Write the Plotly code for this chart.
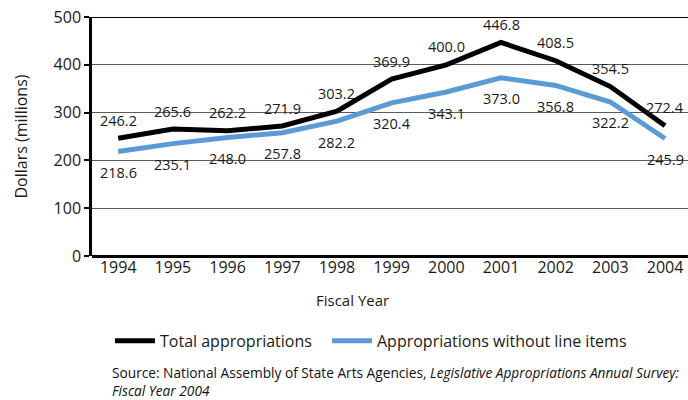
import plotly.graph_objects as go

years = [1994, 1995, 1996, 1997, 1998, 1999, 2000, 2001, 2002, 2003, 2004]
total = [246.2, 265.6, 262.2, 271.9, 303.2, 369.9, 400.0, 446.8, 408.5, 354.5, 272.4]
without_line_items = [218.6, 235.1, 248.0, 257.8, 282.2, 320.4, 343.1, 373.0, 356.8, 322.2, 245.9]
y_ticks = [0, 100, 200, 300, 400, 500]

BLACK = "#000000"
BLUE = "#5b9bd5"
FONT = "'Open Sans', 'Noto Sans', sans-serif"
TEXT = "#1a1a1a"

fig = go.Figure()
fig.add_trace(go.Scatter(x=years, y=total, mode="lines", name="Total appropriations",
                         line=dict(color=BLACK, width=5), legend="legend"))
fig.add_trace(go.Scatter(x=years, y=without_line_items, mode="lines",
                         name="Appropriations without line items",
                         line=dict(color=BLUE, width=5), legend="legend2"))

# value labels: totals above the line, the other series below
for x, v in zip(years, total):
    fig.add_annotation(x=x, y=v, text=f"{v:.1f}", showarrow=False, yshift=18,
                       font=dict(size=14.5, color=TEXT))
for x, v in zip(years, without_line_items):
    fig.add_annotation(x=x, y=v, text=f"{v:.1f}", showarrow=False, yshift=-21,
                       font=dict(size=14.5, color=TEXT))

# dark top border at the axis maximum
fig.add_shape(type="line", xref="paper", x0=0, x1=1, yref="y", y0=y_ticks[-1], y1=y_ticks[-1],
              line=dict(color=BLACK, width=2), layer="above")

fig.add_annotation(xref="paper", yref="paper", x=(352 - 92) / 596, y=-0.185,
                   text="Fiscal Year", showarrow=False, xanchor="center", yanchor="middle",
                   font=dict(size=15, color=TEXT))
fig.add_annotation(xref="paper", yref="paper", x=(110 - 92) / 596, y=-0.44,
                   text="Source: National Assembly of State Arts Agencies, <i>Legislative Appropriations Annual Survey:</i><br><i>Fiscal Year 2004</i>",
                   showarrow=False, xanchor="left", yanchor="top", align="left",
                   font=dict(size=13.7, color="#111"))

legend_style = dict(orientation="h", y=-0.355, xanchor="left", yanchor="middle",
                    font=dict(size=16, color=TEXT), itemwidth=40, bgcolor="rgba(0,0,0,0)")

fig.update_layout(
    width=688, height=400,
    margin=dict(l=92, r=0, t=17, b=144),
    paper_bgcolor="white", plot_bgcolor="white",
    font=dict(family=FONT, color=TEXT),
    showlegend=True,
    legend=dict(x=(110 - 92) / 596, **legend_style),
    legend2=dict(x=(327 - 92) / 596, **legend_style),
    xaxis=dict(range=[1993.52, 2004.42], tickmode="array", tickvals=years,
               ticktext=[str(y) for y in years], showgrid=False, zeroline=False,
               showline=False, ticks="", tickfont=dict(size=16), fixedrange=True),
    yaxis=dict(range=[0, 500], tickmode="array", tickvals=y_ticks,
               showgrid=True, gridcolor="#5a5a5a", gridwidth=1,
               zeroline=True, zerolinecolor=BLACK, zerolinewidth=2.5,
               showline=True, linecolor=BLACK, linewidth=2.5,
               ticks="outside", ticklen=5, tickcolor=BLACK, tickwidth=1.5,
               tickfont=dict(size=16),
               title=dict(text="Dollars (millions)", font=dict(size=16), standoff=22)),
)

fig.write_html("out.html")
